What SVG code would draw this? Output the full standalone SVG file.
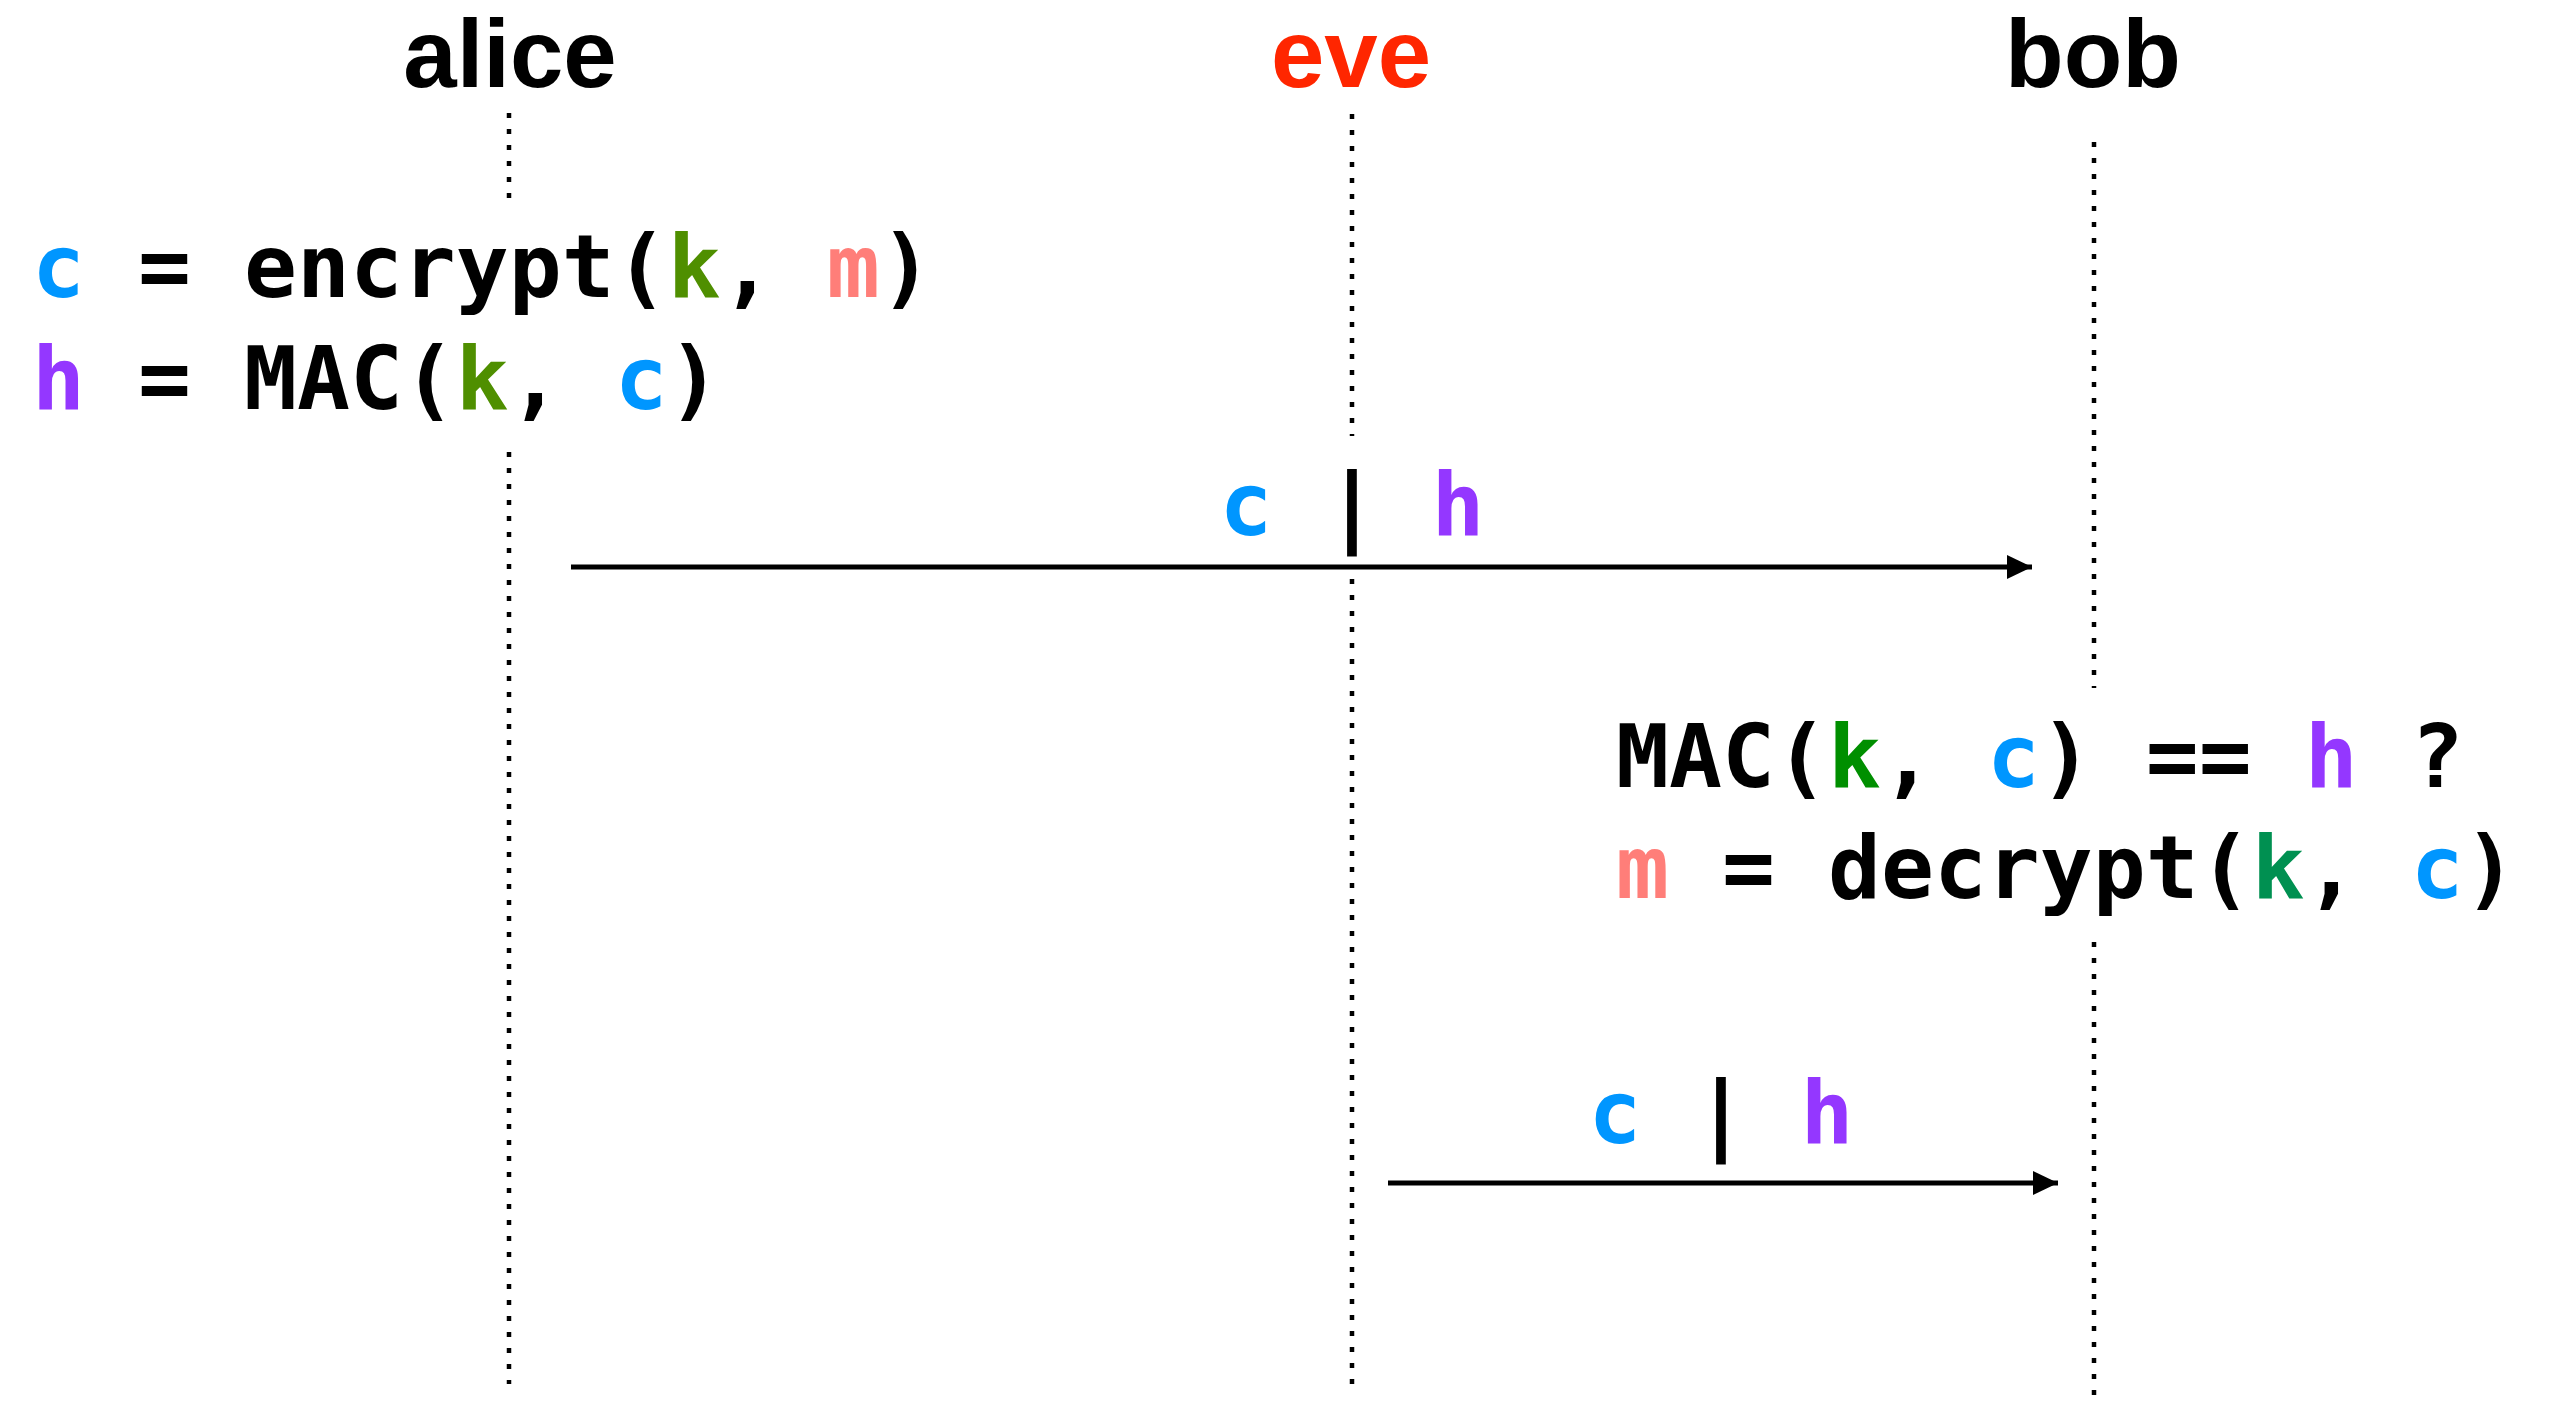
<svg xmlns="http://www.w3.org/2000/svg" width="2550" height="1403" viewBox="0 0 2550 1403">
<style>
.name{font-family:"Liberation Sans",Arial,sans-serif;font-weight:bold;font-size:96px;text-anchor:middle}
.code{font-family:"DejaVu Sans Mono",monospace;font-weight:bold;font-size:88px;fill:#000}
.life{stroke:#000;stroke-width:4.5;stroke-dasharray:5 11;fill:none}
.msg{stroke:#000;stroke-width:5;fill:none}
.c{fill:#0096FF}.h{fill:#9437FF}.m{fill:#FF7E79}
.k1{fill:#4F8F00}.k2{fill:#008F00}.k3{fill:#009051}
</style>
<defs>
<marker id="arr" markerUnits="userSpaceOnUse" markerWidth="26" markerHeight="26" viewBox="0 0 26 26" refX="25" refY="13" orient="auto">
<path d="M0,1 L25,13 L0,25 Z" fill="#000"/>
</marker>
</defs>
<rect width="2550" height="1403" fill="#fff"/>
<g id="alice">
<text class="name" x="510" y="87" fill="#000">alice</text>
<text class="code" x="32" y="297"><tspan class="c">c</tspan> = encrypt(<tspan class="k1">k</tspan>, <tspan class="m">m</tspan>)</text>
<text class="code" x="32" y="409"><tspan class="h">h</tspan> = MAC(<tspan class="k1">k</tspan>, <tspan class="c">c</tspan>)</text>
</g>
<g id="eve">
<text class="name" x="1351" y="87" fill="#FF2600">eve</text>
</g>
<g id="bob">
<text class="name" x="2093" y="87" fill="#000">bob</text>
<text class="code" x="1616" y="787">MAC(<tspan class="k2">k</tspan>, <tspan class="c">c</tspan>) == <tspan class="h">h</tspan> ?</text>
<text class="code" x="1616" y="898"><tspan class="m">m</tspan> = decrypt(<tspan class="k3">k</tspan>, <tspan class="c">c</tspan>)</text>
</g>
<g id="lifelines">
<line class="life" x1="509" y1="113" x2="509" y2="200"/>
<line class="life" x1="509" y1="452" x2="509" y2="1384"/>
<line class="life" x1="1352" y1="114" x2="1352" y2="436"/>
<line class="life" x1="1352" y1="579" x2="1352" y2="1384"/>
<line class="life" x1="2094" y1="142" x2="2094" y2="688"/>
<line class="life" x1="2094" y1="942" x2="2094" y2="1396"/>
</g>
<g id="connectors">
<line class="msg" x1="571" y1="567" x2="2032" y2="567" marker-end="url(#arr)"/>
<text class="code" x="1352" y="535" text-anchor="middle"><tspan class="c">c</tspan> | <tspan class="h">h</tspan></text>
<line class="msg" x1="1388" y1="1183" x2="2058" y2="1183" marker-end="url(#arr)"/>
<text class="code" x="1721" y="1143" text-anchor="middle"><tspan class="c">c</tspan> | <tspan class="h">h</tspan></text>
</g>
</svg>
